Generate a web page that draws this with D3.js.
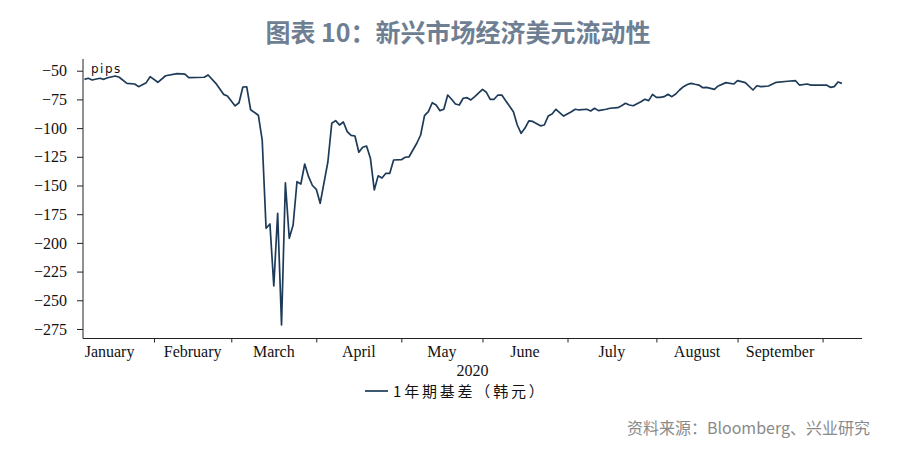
<!DOCTYPE html>
<html><head><meta charset="utf-8">
<script src="https://cdn.jsdelivr.net/npm/d3@7"></script>
<style>
html,body{margin:0;padding:0;background:#fff;}
svg{display:block;}
</style></head>
<body>
<svg id="chart" width="900" height="458"></svg>
<script>
// ---- data ----
const titleText = "图表 10：新兴市场经济美元流动性";
const sourceText = "资料来源：Bloomberg、兴业研究";
const seriesName = "1年期基差（韩元）";
const yearLabel = "2020";
const unitLabel = "pips";
const months = ["January","February","March","April","May","June","July","August","September"];
// business-day index (0 = 1 Jan 2020) at which each month starts, last entry = October
const monthStartDay = [0,23,43,65,87,108,130,153,174,196];
const yTicks = [-50,-75,-100,-125,-150,-175,-200,-225,-250,-275];
// business-day index of each observation
const bizDay = [5,6,7,9,10,11,13,14,16,18,19,21,22,24,26,29,31,32,36,37,39,41,42,44,45,46,47,48,50,51,52,53,54,55,56,57,58,59,60,61,62,63,64,65,66,68,69,70,71,72,73,74,75,76,77,78,79,80,81,82,83,84,85,87,88,89,91,92,93,94,95,96,97,98,99,100,101,102,103,104,105,106,108,109,110,111,112,113,114,116,117,118,119,120,121,123,124,125,126,127,129,131,132,133,135,136,137,138,140,141,143,144,145,146,147,149,150,151,152,153,154,155,156,157,158,159,160,161,162,163,164,165,166,168,169,171,173,174,176,178,179,180,182,184,187,189,190,192,193,197,198,199,200,201];
const basis = [-57.5,-56.6,-58.1,-56.6,-57.5,-56.1,-54.6,-55.7,-61,-61.6,-63.9,-60.4,-55.2,-60.1,-54.4,-52.6,-52.9,-56.1,-55.7,-53.7,-61,-70.6,-72,-80.7,-77.9,-64.2,-64,-84,-88.8,-110.4,-187.3,-183.5,-237.5,-174.2,-271.5,-147.6,-196,-184.4,-146.7,-148.7,-131.3,-142.3,-150,-153.3,-165.5,-129.3,-95.8,-93.5,-97.3,-94.7,-103.1,-106.3,-106.9,-121,-116.7,-115.6,-126.3,-153.9,-141.6,-143.5,-139.4,-139.5,-127.8,-127.5,-125.4,-125,-113.2,-106,-89.2,-85.7,-77.9,-79.9,-84.8,-83.6,-71.2,-74.9,-79,-79.9,-74,-73.5,-75.5,-72.6,-66.2,-68.8,-74.9,-74.9,-71.2,-71.2,-76.1,-85.7,-97.3,-104.5,-100,-93.7,-94.2,-98,-97.3,-89.5,-87.7,-83.6,-89.5,-85.7,-83.6,-84.2,-83.6,-85.1,-82.7,-84.8,-83.6,-82.7,-82.2,-80.5,-78.4,-79.9,-80.5,-77,-74.9,-76.1,-70.6,-73.2,-73.2,-72.6,-70.6,-72.6,-70.3,-66.8,-63.9,-62,-61,-61.8,-62.5,-64.8,-64.5,-66.2,-63.3,-60.4,-61.6,-58.7,-60.4,-66.8,-63.1,-63.9,-63.3,-60.1,-59.2,-58.7,-62.5,-61.6,-62.5,-62.5,-64.5,-63.9,-59.8,-61];

// ---- layout ----
const svg = d3.select("#chart");
const plot = {left:83, right:862, top:59, bottom:338.5};
const x = d3.scaleLinear().domain([4.63, 206.2]).range([plot.left, plot.right]);
const y = d3.scaleLinear().domain([-283.3, -39.8]).range([plot.bottom, plot.top]);
const serif = "'Liberation Serif','Times New Roman',serif";
const cjk = "'Noto Sans CJK SC','Noto Sans',sans-serif";

// title
svg.append("text").attr("x", 458).attr("y", 42).attr("text-anchor","middle")
  .style("font-family", cjk).style("font-weight","bold").style("font-size","25px")
  .style("fill","#6f7f93").text(titleText);

// y axis
const yAxis = d3.axisLeft(y).tickValues(yTicks).tickSize(6).tickPadding(10).tickFormat(d3.format("d"));
const gy = svg.append("g").attr("transform",`translate(${plot.left},0)`).call(yAxis);
gy.select(".domain").attr("d", `M0,${plot.top}V${plot.bottom}`).attr("stroke","#222");
gy.selectAll(".tick line").attr("stroke","#222");
gy.selectAll("text").style("font-family", serif).style("font-size","16px").style("fill","#111");

// x axis (month boundary ticks)
const xAxis = d3.axisBottom(x).tickValues(monthStartDay.slice(1)).tickSize(4).tickFormat("");
const gx = svg.append("g").attr("transform",`translate(0,${plot.bottom})`).call(xAxis);
gx.select(".domain").attr("d", `M${plot.left},0H${plot.right}`).attr("stroke","#222");
gx.selectAll(".tick line").attr("stroke","#222");
// month labels centered in each month
svg.append("g").selectAll("text").data(months).join("text")
  .attr("x", (d,i) => x((monthStartDay[i] + monthStartDay[i+1]) / 2))
  .attr("y", 357).attr("text-anchor","middle")
  .style("font-family", serif).style("font-size","16px").style("fill","#111")
  .text(d => d);
svg.append("text").attr("x", (plot.left+plot.right)/2).attr("y", 376).attr("text-anchor","middle")
  .style("font-family", serif).style("font-size","16px").style("fill","#111").text(yearLabel);

// unit label
svg.append("text").attr("x", 91).attr("y", 73)
  .style("font-family","'DejaVu Sans',sans-serif").style("font-size","12px")
  .style("letter-spacing","1.5px").style("fill","#111").text(unitLabel);

// line
const data = bizDay.map((d,i) => ({d, v: basis[i]}));
svg.append("path").datum(data)
  .attr("fill","none").attr("stroke","#1d3b58").attr("stroke-width",1.7)
  .attr("stroke-linejoin","round")
  .attr("d", d3.line().x(p => x(p.d)).y(p => y(p.v)));

// legend
svg.append("line").attr("x1",365).attr("x2",388).attr("y1",391).attr("y2",391)
  .attr("stroke","#1d3b58").attr("stroke-width",1.7);
svg.append("text").attr("x",393).attr("y",397)
  .style("font-family", cjk).style("font-size","15px").style("letter-spacing","2.8px")
  .style("fill","#111").text(seriesName);

// source
svg.append("text").attr("x",870).attr("y",434).attr("text-anchor","end")
  .style("font-family", cjk).style("font-size","16px").style("fill","#8a8a8a").text(sourceText);
</script>
</body></html>
